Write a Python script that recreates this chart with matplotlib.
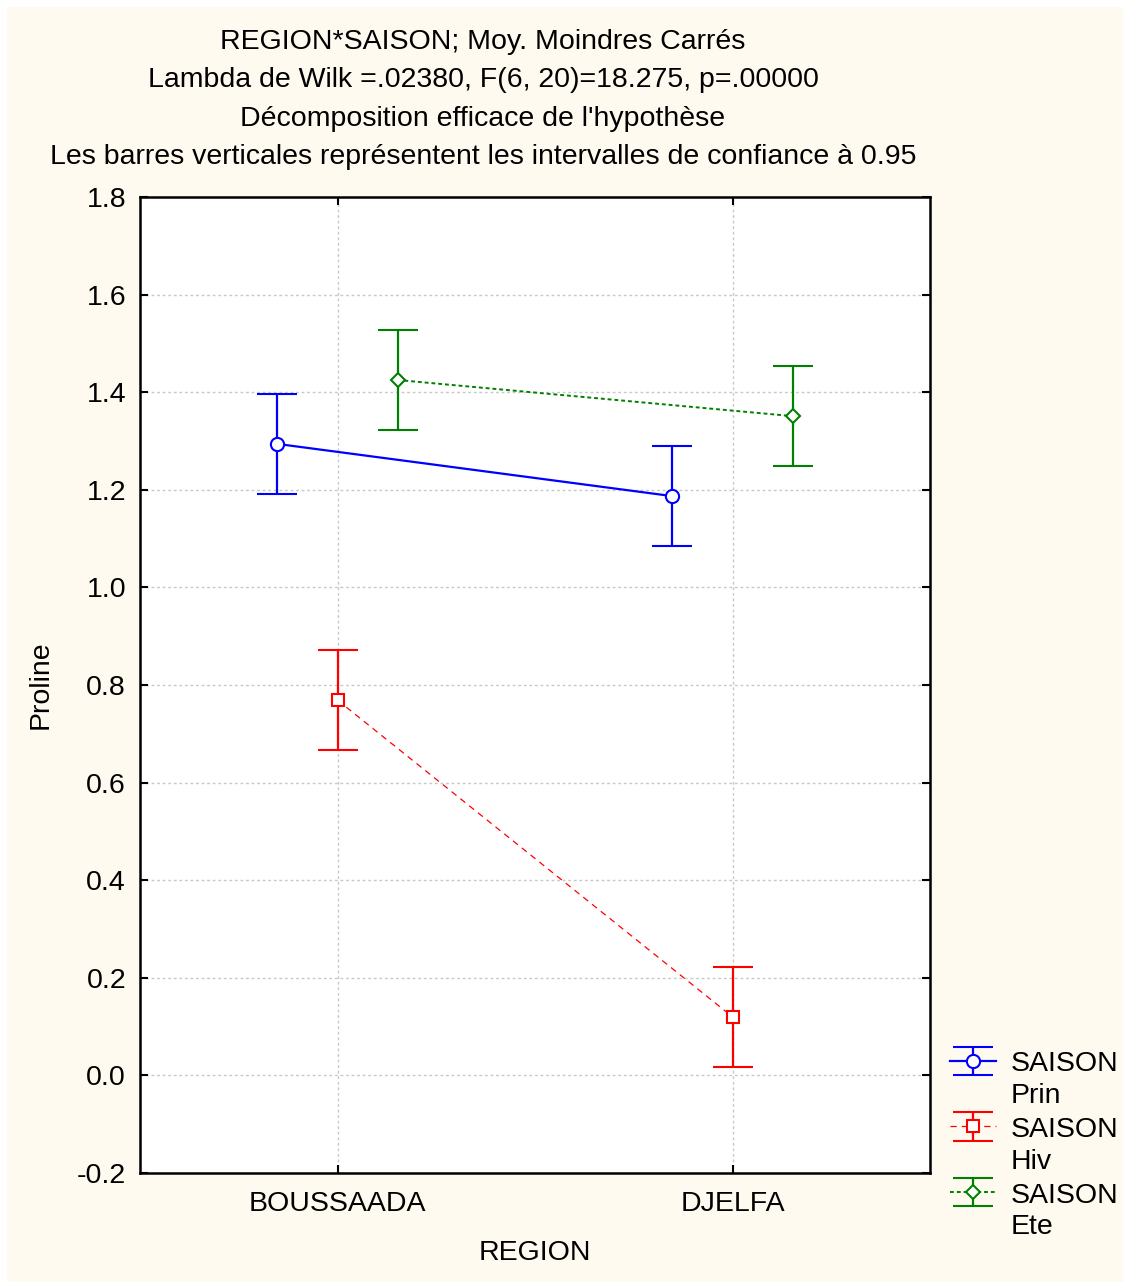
import matplotlib
matplotlib.use("Agg")
import matplotlib.pyplot as plt
from matplotlib.patches import Rectangle
from matplotlib.container import ErrorbarContainer
from matplotlib.legend_handler import HandlerErrorbar

plt.rcParams["font.family"] = ["Liberation Sans", "DejaVu Sans"]
plt.rcParams["font.size"] = 20.5

# data
regions = ["BOUSSAADA", "DJELFA"]
seasons = ["Prin", "Hiv", "Ete"]
means = {
    "Prin": [1.294, 1.187],
    "Hiv": [0.769, 0.120],
    "Ete": [1.425, 1.351],
}
ci_half = {
    "Prin": [0.102, 0.102],
    "Hiv": [0.102, 0.102],
    "Ete": [0.102, 0.102],
}
offsets = {"Prin": -0.152, "Hiv": 0.0, "Ete": 0.152}
colors = {"Prin": "#0000ff", "Hiv": "#ff0000", "Ete": "#008000"}
styles = {"Prin": "-", "Hiv": (0, (5, 4)), "Ete": (0, (2, 1.5))}
widths = {"Prin": 1.6, "Hiv": 0.9, "Ete": 1.4}
markers = {"Prin": "o", "Hiv": "s", "Ete": "D"}
msizes = {"Prin": 9.5, "Hiv": 9, "Ete": 7.5}

title_lines = [
    "REGION*SAISON; Moy. Moindres Carrés",
    "Lambda de Wilk =.02380, F(6, 20)=18.275, p=.00000",
    "Décomposition efficace de l'hypothèse",
    "Les barres verticales représentent les intervalles de confiance à 0.95",
]


class TopLineHandler(HandlerErrorbar):
    # put the legend glyph next to the first line of a two-line label
    def create_artists(self, legend, orig_handle, xdescent, ydescent,
                       width, height, fontsize, trans):
        return super().create_artists(legend, orig_handle, xdescent,
                                      ydescent - 28, width, height,
                                      fontsize, trans)


W, H = 1123, 1282
fig = plt.figure(figsize=(W / 100, H / 100), dpi=100, facecolor="white")
fig.patches.append(
    Rectangle((7 / W, 0), 1, 1 - 7 / H, transform=fig.transFigure,
              facecolor="#fffaf0", edgecolor="none", zorder=-10)
)

ax = fig.add_axes([140 / W, 1 - 1173 / H, 790 / W, 976 / H])
ax.set_facecolor("white")

handles = []
for s in seasons:
    xs = [i + offsets[s] for i in range(len(regions))]
    cont = ax.errorbar(
        xs, means[s], yerr=ci_half[s],
        color=colors[s], ecolor=colors[s], linestyle=styles[s], linewidth=widths[s],
        elinewidth=1.6, capsize=14.5, capthick=1.6,
        marker=markers[s], markersize=msizes[s], markerfacecolor="white",
        markeredgecolor=colors[s], markeredgewidth=1.5,
        label=f"SAISON\n{s}", zorder=3,
    )
    handles.append(cont)

ax.set_xlim(-0.5, 1.5)
ax.set_ylim(-0.2, 1.8)
ax.set_xticks(range(len(regions)))
ax.set_xticklabels(regions)
ax.set_yticks([-0.2 + 0.2 * k for k in range(11)])
ax.set_yticklabels([f"{-0.2 + 0.2 * k:.1f}" for k in range(11)])

ax.grid(True, color="#c8c8c8", linestyle=(0, (2, 2)), linewidth=1)
ax.set_axisbelow(True)
for sp in ax.spines.values():
    sp.set_linewidth(1.8)
    sp.set_color("black")
ax.tick_params(direction="in", length=6, width=1.5, top=True, right=True,
               labelsize=20.5)
ax.tick_params(axis="y", pad=10)
ax.tick_params(axis="x", pad=13.2)

ax.set_xlabel("REGION", fontsize=20.5, labelpad=16)
ax.set_ylabel("Proline", fontsize=20.5, labelpad=17)

for k, line in enumerate(title_lines):
    y = [42, 80, 119, 157][k]
    fig.text(483 / W, 1 - y / H, line, ha="center", va="center", fontsize=20.5)

leg = ax.legend(
    handles=handles, loc="upper left", bbox_to_anchor=(939 / W, 1 - 1040 / H),
    bbox_transform=fig.transFigure, frameon=False, fontsize=20.5,
    labelspacing=0.28, handlelength=1.6, handletextpad=0.5, borderaxespad=0,
    handler_map={ErrorbarContainer: TopLineHandler()},
)
for t in leg.get_texts():
    t.set_linespacing(1.28)

fig.savefig("out.png", dpi=100, facecolor=fig.get_facecolor())
